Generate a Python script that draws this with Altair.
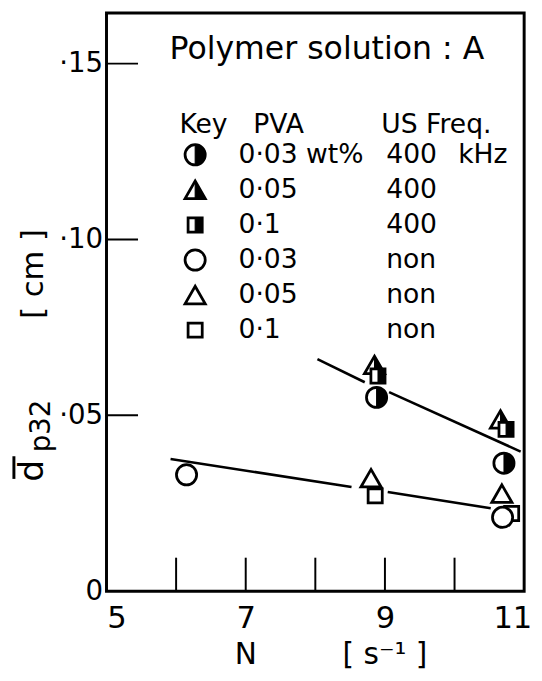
import altair as alt
import pandas as pd

FONT = "DejaVu Sans"

# ---- data ----
half_circle_N = [8.88, 10.71]
half_circle_d = [0.0551, 0.0364]
half_tri_N = [8.85, 10.66]
half_tri_d = [0.0643, 0.0488]
half_sq_N = [8.90, 10.74]
half_sq_d = [0.0612, 0.0460]
open_circle_N = [6.15, 10.69]
open_circle_d = [0.0331, 0.0210]
open_tri_N = [8.80, 10.68]
open_tri_d = [0.0321, 0.0277]
open_sq_N = [8.86, 10.82]
open_sq_d = [0.0271, 0.0221]

upper_N = [8.03, 8.71, 9.06, 10.95]
upper_d = [0.0660, 0.0594, 0.0566, 0.0397]
upper_seg = ["u1", "u1", "u2", "u2"]
lower_N = [5.92, 8.52, 9.04, 10.52]
lower_d = [0.0376, 0.0296, 0.0282, 0.0236]
lower_seg = ["l1", "l1", "l2", "l2"]

x_ticks = [6, 7, 8, 9, 10]
x_labels = [5, 7, 9, 11]
y_ticks = [0.05, 0.10, 0.15]
y_labels = [0, 0.05, 0.10, 0.15]

legend_kind = ["circle", "triangle", "square", "circle", "triangle", "square"]
legend_half = [True, True, True, False, False, False]
legend_pva = ["0·03 wt%", "0·05", "0·1", "0·03", "0·05", "0·1"]
legend_freq = ["400", "400", "400", "non", "non", "non"]

W, H = 424, 587

# ---- tables ----
rows = []
for kind, half, Ns, ds in [
    ("circle", True, half_circle_N, half_circle_d),
    ("triangle", True, half_tri_N, half_tri_d),
    ("square", True, half_sq_N, half_sq_d),
    ("circle", False, open_circle_N, open_circle_d),
    ("triangle", False, open_tri_N, open_tri_d),
    ("square", False, open_sq_N, open_sq_d),
]:
    for n, d in zip(Ns, ds):
        rows.append({"N": n, "d": d, "kind": kind, "half": half})
pts = pd.DataFrame(rows)

lines = pd.DataFrame({
    "N": upper_N + lower_N,
    "d": upper_d + lower_d,
    "seg": upper_seg + lower_seg,
})

leg = pd.DataFrame({
    "row": list(range(len(legend_kind))),
    "kind": legend_kind,
    "half": legend_half,
    "pva": legend_pva,
    "freq": legend_freq,
})

SHAPES = {
    "triangle": ("M0,-0.88 L1,0.86 L-1,0.86 Z", "M0,-0.88 L1,0.86 L0,0.86 Z"),
    "square": ("M-0.7,-0.7 L0.7,-0.7 L0.7,0.7 L-0.7,0.7 Z", "M0,-0.7 L0.7,-0.7 L0.7,0.7 L0,0.7 Z"),
    "circle": ("circle", "M0,-1 A1,1 0 0,1 0,1 Z"),
}
SIZE = 420

x_enc = alt.X(
    "N:Q",
    scale=alt.Scale(domain=[5, 11], nice=False, zero=False),
    axis=alt.Axis(values=x_labels, domain=False, ticks=False, grid=False, title=None,
                  format="d", labelFontSize=31, labelPadding=13, labelFont=FONT,
                  labelColor="black", labelFlush=False,
                  labelOffset={"condition": [{"test": "datum.value == 5", "value": 10},
                                             {"test": "datum.value == 11", "value": -12}],
                               "value": 0}),
)
y_enc = alt.Y(
    "d:Q",
    scale=alt.Scale(domain=[0, 0.1644], nice=False),
    axis=alt.Axis(values=y_labels, domain=False, ticks=False, grid=False, title=None,
                  labelFontSize=28, labelPadding=4, labelFont=FONT, labelColor="black",
                  labelExpr="datum.value == 0 ? '0' : '·' + slice(format(datum.value, '.2f'), 2)"),
)


def marker_layers(df, xe, ye, calc=None):
    out = []
    for kind in ["triangle", "square", "circle"]:
        full, halfp = SHAPES[kind]
        base = alt.Chart(df)
        if calc:
            base = base.transform_calculate(**calc)
        base = base.transform_filter(alt.datum.kind == kind)
        out.append(base.mark_point(shape=full, size=SIZE, filled=True, fill="white",
                                   stroke="black", strokeWidth=2.8, opacity=1)
                   .encode(x=xe, y=ye))
        out.append(base.transform_filter(alt.datum.half == True)
                   .mark_point(shape=halfp, size=SIZE, filled=True, fill="black",
                               stroke="black", strokeWidth=1, opacity=1)
                   .encode(x=xe, y=ye))
    return out


line_layer = alt.Chart(lines).mark_line(color="black", strokeWidth=2.6).encode(
    x=x_enc, y=y_enc, detail="seg:N")

xtick_layer = alt.Chart(pd.DataFrame({"N": x_ticks})).mark_rule(
    color="black", strokeWidth=2).encode(x=x_enc, y=alt.value(H), y2=alt.value(H - 34))
ytick_layer = alt.Chart(pd.DataFrame({"d": y_ticks})).mark_rule(
    color="black", strokeWidth=2).encode(y=y_enc, x=alt.value(0), x2=alt.value(32))

point_layers = marker_layers(pts, x_enc, y_enc)

# legend (pixel positioned annotation)
calc = {"py": "144 + 35.6 * datum.row", "px": "90"}
leg_x = alt.X("px:Q", scale=None)
leg_y = alt.Y("py:Q", scale=None)
leg_marks = marker_layers(leg, leg_x, leg_y, calc)
leg_pos = alt.Chart(leg).transform_calculate(**calc)

txt = dict(font=FONT, color="black")
leg_pva = leg_pos.mark_text(align="left", baseline="middle", fontSize=27, **txt).encode(
    x=alt.value(134), y=leg_y, text="pva:N")
leg_freq = leg_pos.mark_text(align="left", baseline="middle", fontSize=27, **txt).encode(
    x=alt.value(284), y=leg_y, text="freq:N")

one = pd.DataFrame({"a": [0]})


def label(text, x, y, size, align="left", baseline="alphabetic", angle=0):
    return alt.Chart(one).mark_text(text=text, align=align, baseline=baseline, fontSize=size,
                                    angle=angle, **txt).encode(x=x, y=y)


annots = [
    label("Polymer  solution : A", alt.value(64), alt.value(47), 32),
    label("Key", alt.value(74), alt.value(122), 27),
    label("PVA", alt.value(149), alt.value(122), 27),
    label("US Freq.", alt.value(279), alt.value(122), 27),
    label("kHz", alt.value(357), alt.value(144), 27, baseline="middle"),
    label("N", alt.datum(7), alt.value(H + 74), 30, align="center", baseline="alphabetic"),
    label("[ s⁻¹ ]", alt.datum(9), alt.value(H + 74), 30, align="center", baseline="alphabetic"),
    label("[ cm ]", alt.value(-64), alt.value(265), 31, align="center", angle=270),
    label("d", alt.value(-64), alt.value(476), 35, align="left", angle=270),
    label("p32", alt.value(-57), alt.value(446), 28, align="left", angle=270),
]
overbar = alt.Chart(one).mark_rule(color="black", strokeWidth=3).encode(
    x=alt.value(-94), y=alt.value(450), y2=alt.value(473))

chart = alt.layer(
    line_layer, xtick_layer, ytick_layer, *point_layers, *leg_marks, leg_pva, leg_freq,
    *annots, overbar,
).properties(
    width=W, height=H,
    autosize=alt.AutoSizeParams(type="none"),
    padding={"left": 100, "top": 0, "right": 10, "bottom": 78},
).configure(font=FONT).configure_view(stroke="black", strokeWidth=3)

chart.save("out.html", embed_options={"renderer": "svg", "actions": False})
